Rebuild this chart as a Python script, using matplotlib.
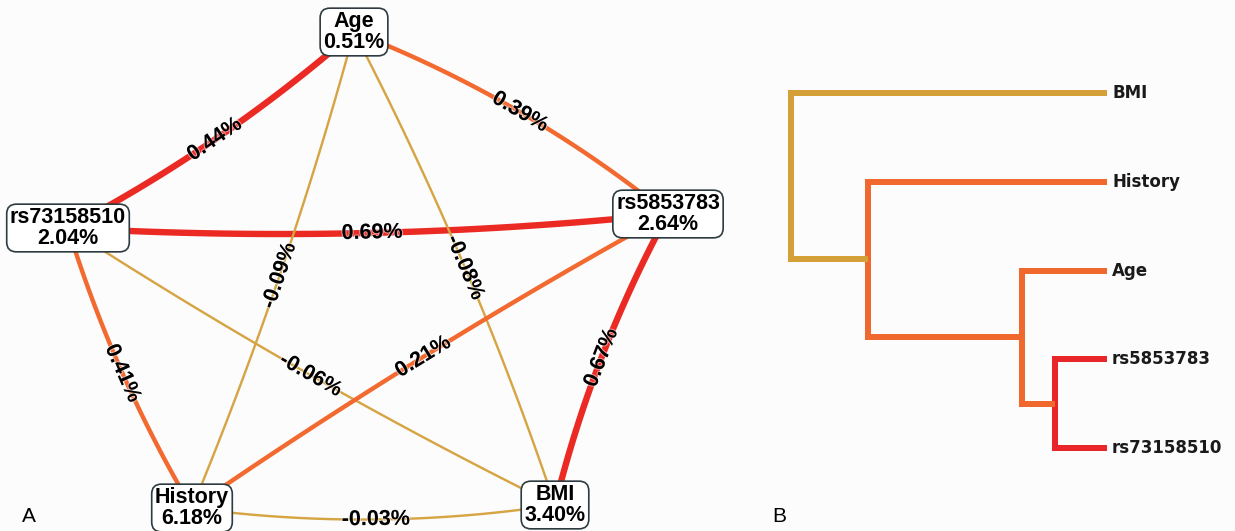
import numpy as np
import matplotlib.pyplot as plt
from matplotlib import patheffects
from matplotlib.transforms import offset_copy

plt.rcParams['font.family'] = ['Liberation Sans', 'DejaVu Sans']

# %%
# Interaction graph: single-variable gains (nodes) and pairwise gains (edges)
nodes = ['Age', 'rs73158510', 'rs5853783', 'History', 'BMI']
node_pct = [0.51, 2.04, 2.64, 6.18, 3.40]

edge_a = ['Age', 'Age', 'rs73158510', 'rs73158510', 'rs5853783',
          'History', 'Age', 'Age', 'rs73158510', 'rs5853783']
edge_b = ['rs73158510', 'rs5853783', 'rs5853783', 'History', 'BMI',
          'BMI', 'History', 'BMI', 'BMI', 'History']
edge_pct = [0.44, 0.39, 0.69, 0.41, 0.67, -0.03, -0.09, -0.08, -0.06, 0.21]

# Dendrogram: leaf order and merges (child ids >= len(leaves) point to earlier merges)
leaves = ['BMI', 'History', 'Age', 'rs5853783', 'rs73158510']
merge_left = [3, 2, 1, 0]
merge_right = [4, 5, 6, 7]
merge_height = [0.165, 0.269, 0.756, 1.0]

# %%
# layout (pixel space of the left panel) and styling
node_xy = {'Age': (354, 32), 'rs73158510': (68, 228), 'rs5853783': (668, 214),
           'History': (192, 508), 'BMI': (555, 505)}
edge_bend = [-10, -14, 12, 9, 10, 13, -8, -10, 8, 7]

TAN, ORANGE, RED = '#d6a443', '#f26a30', '#ec2a24'
merge_colors = ['#e8262a', '#f0682e', '#f0682e', '#d6a038']
PX = 0.72  # points per pixel at dpi 100


def edge_style(v):
    if v < 0:
        return TAN, 2.4 * PX
    if v < 0.42:
        return ORANGE, 4.4 * PX
    return RED, 6.4 * PX


def bezier(p0, p1, bend, n=80):
    p0, p1 = np.asarray(p0, float), np.asarray(p1, float)
    d = p1 - p0
    nrm = np.array([-d[1], d[0]]) / np.hypot(*d)
    c = (p0 + p1) / 2 + 2 * bend * nrm
    t = np.linspace(0, 1, n)[:, None]
    return (1 - t) ** 2 * p0 + 2 * (1 - t) * t * c + t ** 2 * p1


fig = plt.figure(figsize=(12.35, 5.31), dpi=100, facecolor='#fcfcfd')
ax = fig.add_axes([0, 0, 1, 1])
ax.set_xlim(0, 1235)
ax.set_ylim(531, 0)
ax.axis('off')

halo = [patheffects.withStroke(linewidth=1.5, foreground='white', alpha=0.5)]

for a, b, v, bend in zip(edge_a, edge_b, edge_pct, edge_bend):
    p0, p1 = node_xy[a], node_xy[b]
    curve = bezier(p0, p1, bend)
    col, lw = edge_style(v)
    ax.plot(curve[:, 0], curve[:, 1], color=col, lw=lw, zorder=1,
            solid_capstyle='round')
    mid = curve[len(curve) // 2]
    ang = np.degrees(np.arctan2(-(p1[1] - p0[1]), p1[0] - p0[0]))
    if ang > 90:
        ang -= 180
    elif ang <= -90:
        ang += 180
    ax.text(mid[0], mid[1], f'{v:.2f}%', rotation=ang, rotation_mode='anchor',
            ha='center', va='center', fontsize=15.5, fontweight='bold',
            color='black', zorder=3, path_effects=halo)

for name, pct in zip(nodes, node_pct):
    x, y = node_xy[name]
    ax.text(x, y, f'{name}\n{pct:.2f}%', ha='center', va='center',
            fontsize=15.5, fontweight='bold', linespacing=0.95, zorder=5,
            bbox=dict(boxstyle='round,pad=0.15,rounding_size=0.45',
                      fc='white', ec='#2e3b40', lw=1.2))

ax.text(22, 516, 'A', fontsize=15, va='center', ha='left')
ax.text(772, 516, 'B', fontsize=15, va='center', ha='left')

# %%
# dendrogram panel
ax2 = fig.add_axes([791 / 1235, 1 - 448 / 531, 316 / 1235, 355 / 531])
ax2.set_xlim(1.0, 0.0)
ax2.set_ylim(len(leaves) - 1, 0)
ax2.axis('off')
ax2.patch.set_alpha(0)

pos = {i: (0.0, float(i)) for i in range(len(leaves))}
for k, (a, b, h) in enumerate(zip(merge_left, merge_right, merge_height)):
    xa, ya = pos[a]
    xb, yb = pos[b]
    ax2.plot([xa, h, h, xb], [ya, ya, yb, yb], color=merge_colors[k],
             lw=6 * PX, clip_on=False, solid_joinstyle='miter',
             solid_capstyle='butt')
    pos[len(leaves) + k] = (h, (ya + yb) / 2)

lab_tr = offset_copy(ax2.transData, fig=fig, x=5, y=0, units='dots')
for i, name in enumerate(leaves):
    ax2.text(0, i, name, transform=lab_tr, ha='left', va='center',
             fontsize=12, fontweight='bold', family='DejaVu Sans',
             color='#1a1a1a', clip_on=False)

fig.savefig('out.png', dpi=100, facecolor=fig.get_facecolor())
